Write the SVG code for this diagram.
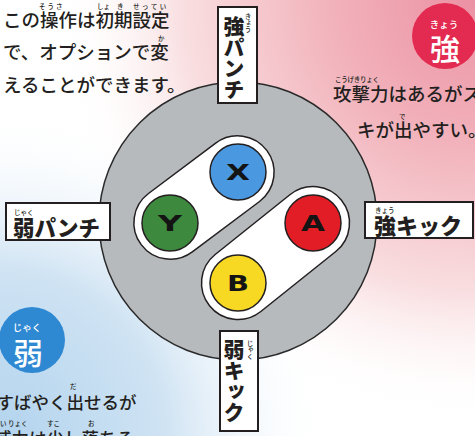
<svg xmlns="http://www.w3.org/2000/svg" width="475" height="436" viewBox="0 0 475 436">
<defs>
<radialGradient id="pink" cx="475" cy="0" r="420" gradientUnits="userSpaceOnUse">
  <stop offset="0" stop-color="#eb91a3"/>
  <stop offset="0.35" stop-color="#f2b3bc"/>
  <stop offset="0.7" stop-color="#f9dfe1"/>
  <stop offset="1" stop-color="#ffffff" stop-opacity="0"/>
</radialGradient>
<radialGradient id="blue" cx="0" cy="436" r="330" gradientUnits="userSpaceOnUse">
  <stop offset="0" stop-color="#b3d4ee"/>
  <stop offset="0.5" stop-color="#cfe3f3"/>
  <stop offset="1" stop-color="#ffffff" stop-opacity="0"/>
</radialGradient>
<style>
.main{font-family:"Noto Sans CJK JP","Noto Sans",sans-serif;font-weight:500;fill:#231f20}
.ruby{font-family:"Noto Sans CJK JP","Noto Sans",sans-serif;font-weight:500;fill:#231f20;font-size:6.5px}
.lbl{font-family:"Noto Sans CJK JP","Noto Sans",sans-serif;font-weight:900;fill:#231f20}
.box{fill:#fff;stroke:#231f20;stroke-width:2}
.btn{stroke:#231f20;stroke-width:1.5}
.btxt{font-family:"DejaVu Sans",sans-serif;font-weight:bold;font-size:20.5px;fill:#141414;text-anchor:middle}
.pill{fill:#fff;stroke:#231f20;stroke-width:1.5}
.vert{writing-mode:vertical-rl}
.badge{font-family:"Noto Sans CJK JP","Noto Sans",sans-serif;font-weight:500;fill:#fff;text-anchor:middle}
</style>
</defs>
<g id="background">
  <rect width="475" height="436" fill="#fff"/>
  <rect width="475" height="436" fill="url(#pink)"/>
  <rect width="475" height="436" fill="url(#blue)"/>
</g>
<g id="pad">
  <circle cx="238" cy="221" r="139" fill="#b6babd" stroke="#2a2a2a" stroke-width="1.5"/>
</g>
<g id="pill-xy">
  <rect class="pill" x="-78.5" y="-36.5" width="157" height="73" rx="36.5" transform="translate(204 197.5) rotate(-36.87)"/>
</g>
<g id="pill-ab">
  <rect class="pill" x="-84.5" y="-36.5" width="169" height="73" rx="36.5" transform="translate(275.5 253) rotate(-38.66)"/>
</g>
<g id="btn-x">
  <circle class="btn" cx="238" cy="172" r="28" fill="#4a98e0"/>
  <text class="btxt" x="238" y="179.5" textLength="24" lengthAdjust="spacingAndGlyphs">X</text>
</g>
<g id="btn-y">
  <circle class="btn" cx="170" cy="223" r="28" fill="#3d8a3f"/>
  <text class="btxt" x="170" y="230.5" textLength="24" lengthAdjust="spacingAndGlyphs">Y</text>
</g>
<g id="btn-a">
  <circle class="btn" cx="313" cy="223" r="28" fill="#e31d25"/>
  <text class="btxt" x="313" y="230.5" textLength="24" lengthAdjust="spacingAndGlyphs">A</text>
</g>
<g id="btn-b">
  <circle class="btn" cx="238" cy="283" r="28" fill="#f7d823"/>
  <text class="btxt" x="238" y="290.5" textLength="22" lengthAdjust="spacingAndGlyphs">B</text>
</g>
<g id="label-strong-punch">
  <rect class="box" x="218" y="7" width="39" height="96"/>
  <text class="lbl vert" x="234" y="16" font-size="21">強パンチ</text>
  <text class="ruby vert" x="248" y="13">きょう</text>
</g>
<g id="label-weak-punch">
  <rect class="box" x="6" y="203" width="104" height="37"/>
  <text class="lbl" x="13" y="236" font-size="21.5">弱パンチ</text>
  <text class="ruby" x="14" y="215">じゃく</text>
</g>
<g id="label-strong-kick">
  <rect class="box" x="365" y="202" width="108" height="36"/>
  <text class="lbl" x="374" y="233.5" font-size="22">強キック</text>
  <text class="ruby" x="375" y="213">きょう</text>
</g>
<g id="label-weak-kick">
  <rect class="box" x="220" y="331" width="38" height="100"/>
  <text class="lbl vert" x="234" y="339" font-size="21">弱キック</text>
  <text class="ruby vert" x="250" y="340">じゃく</text>
</g>
<g id="note-top">
  <text class="main" x="3" y="27" font-size="18.5">この操作は初期設定</text>
  <text class="ruby" x="39" y="8.5" letter-spacing="2">そうさ</text>
  <text class="ruby" x="97" y="8.5">しょ</text>
  <text class="ruby" x="117" y="8.5">き</text>
  <text class="ruby" x="133" y="8.5" letter-spacing="2.5">せってい</text>
  <text class="main" x="3" y="58.5" font-size="18.5">で、オプションで変</text>
  <text class="ruby" x="158" y="41">か</text>
  <text class="main" x="3" y="91.5" font-size="18.5">えることができます。</text>
</g>
<g id="badge-strong">
  <circle cx="445" cy="36" r="33" fill="#e32a50"/>
  <text class="badge" x="444" y="28" font-size="9.5">きょう</text>
  <text class="badge" x="445" y="60" font-size="30">強</text>
</g>
<g id="note-strong">
  <text class="ruby" x="335" y="82" textLength="44">こうげきりょく</text>
  <text class="main" x="333" y="100.5" font-size="18.5">攻撃力はあるがス</text>
  <text class="ruby" x="399" y="118.5">で</text>
  <text class="main" x="357" y="136.5" font-size="18.5">キが出やすい。</text>
</g>
<g id="badge-weak">
  <circle cx="32" cy="340" r="33" fill="#2f88d2"/>
  <text class="badge" x="27" y="331" font-size="9.5">じゃく</text>
  <text class="badge" x="28" y="364" font-size="30">弱</text>
</g>
<g id="note-weak">
  <text class="ruby" x="70" y="388.5">だ</text>
  <text class="main" x="-3.5" y="408.5" font-size="17.5">すばやく出せるが</text>
  <text class="ruby" x="0" y="426">い</text>
  <text class="ruby" x="8" y="426">りょく</text>
  <text class="ruby" x="47" y="426">すこ</text>
  <text class="ruby" x="88" y="426">お</text>
  <text class="main" x="-6" y="444.5" font-size="17.5">威力は少し落ちる</text>
</g>
<g id="connectors"/>
</svg>
